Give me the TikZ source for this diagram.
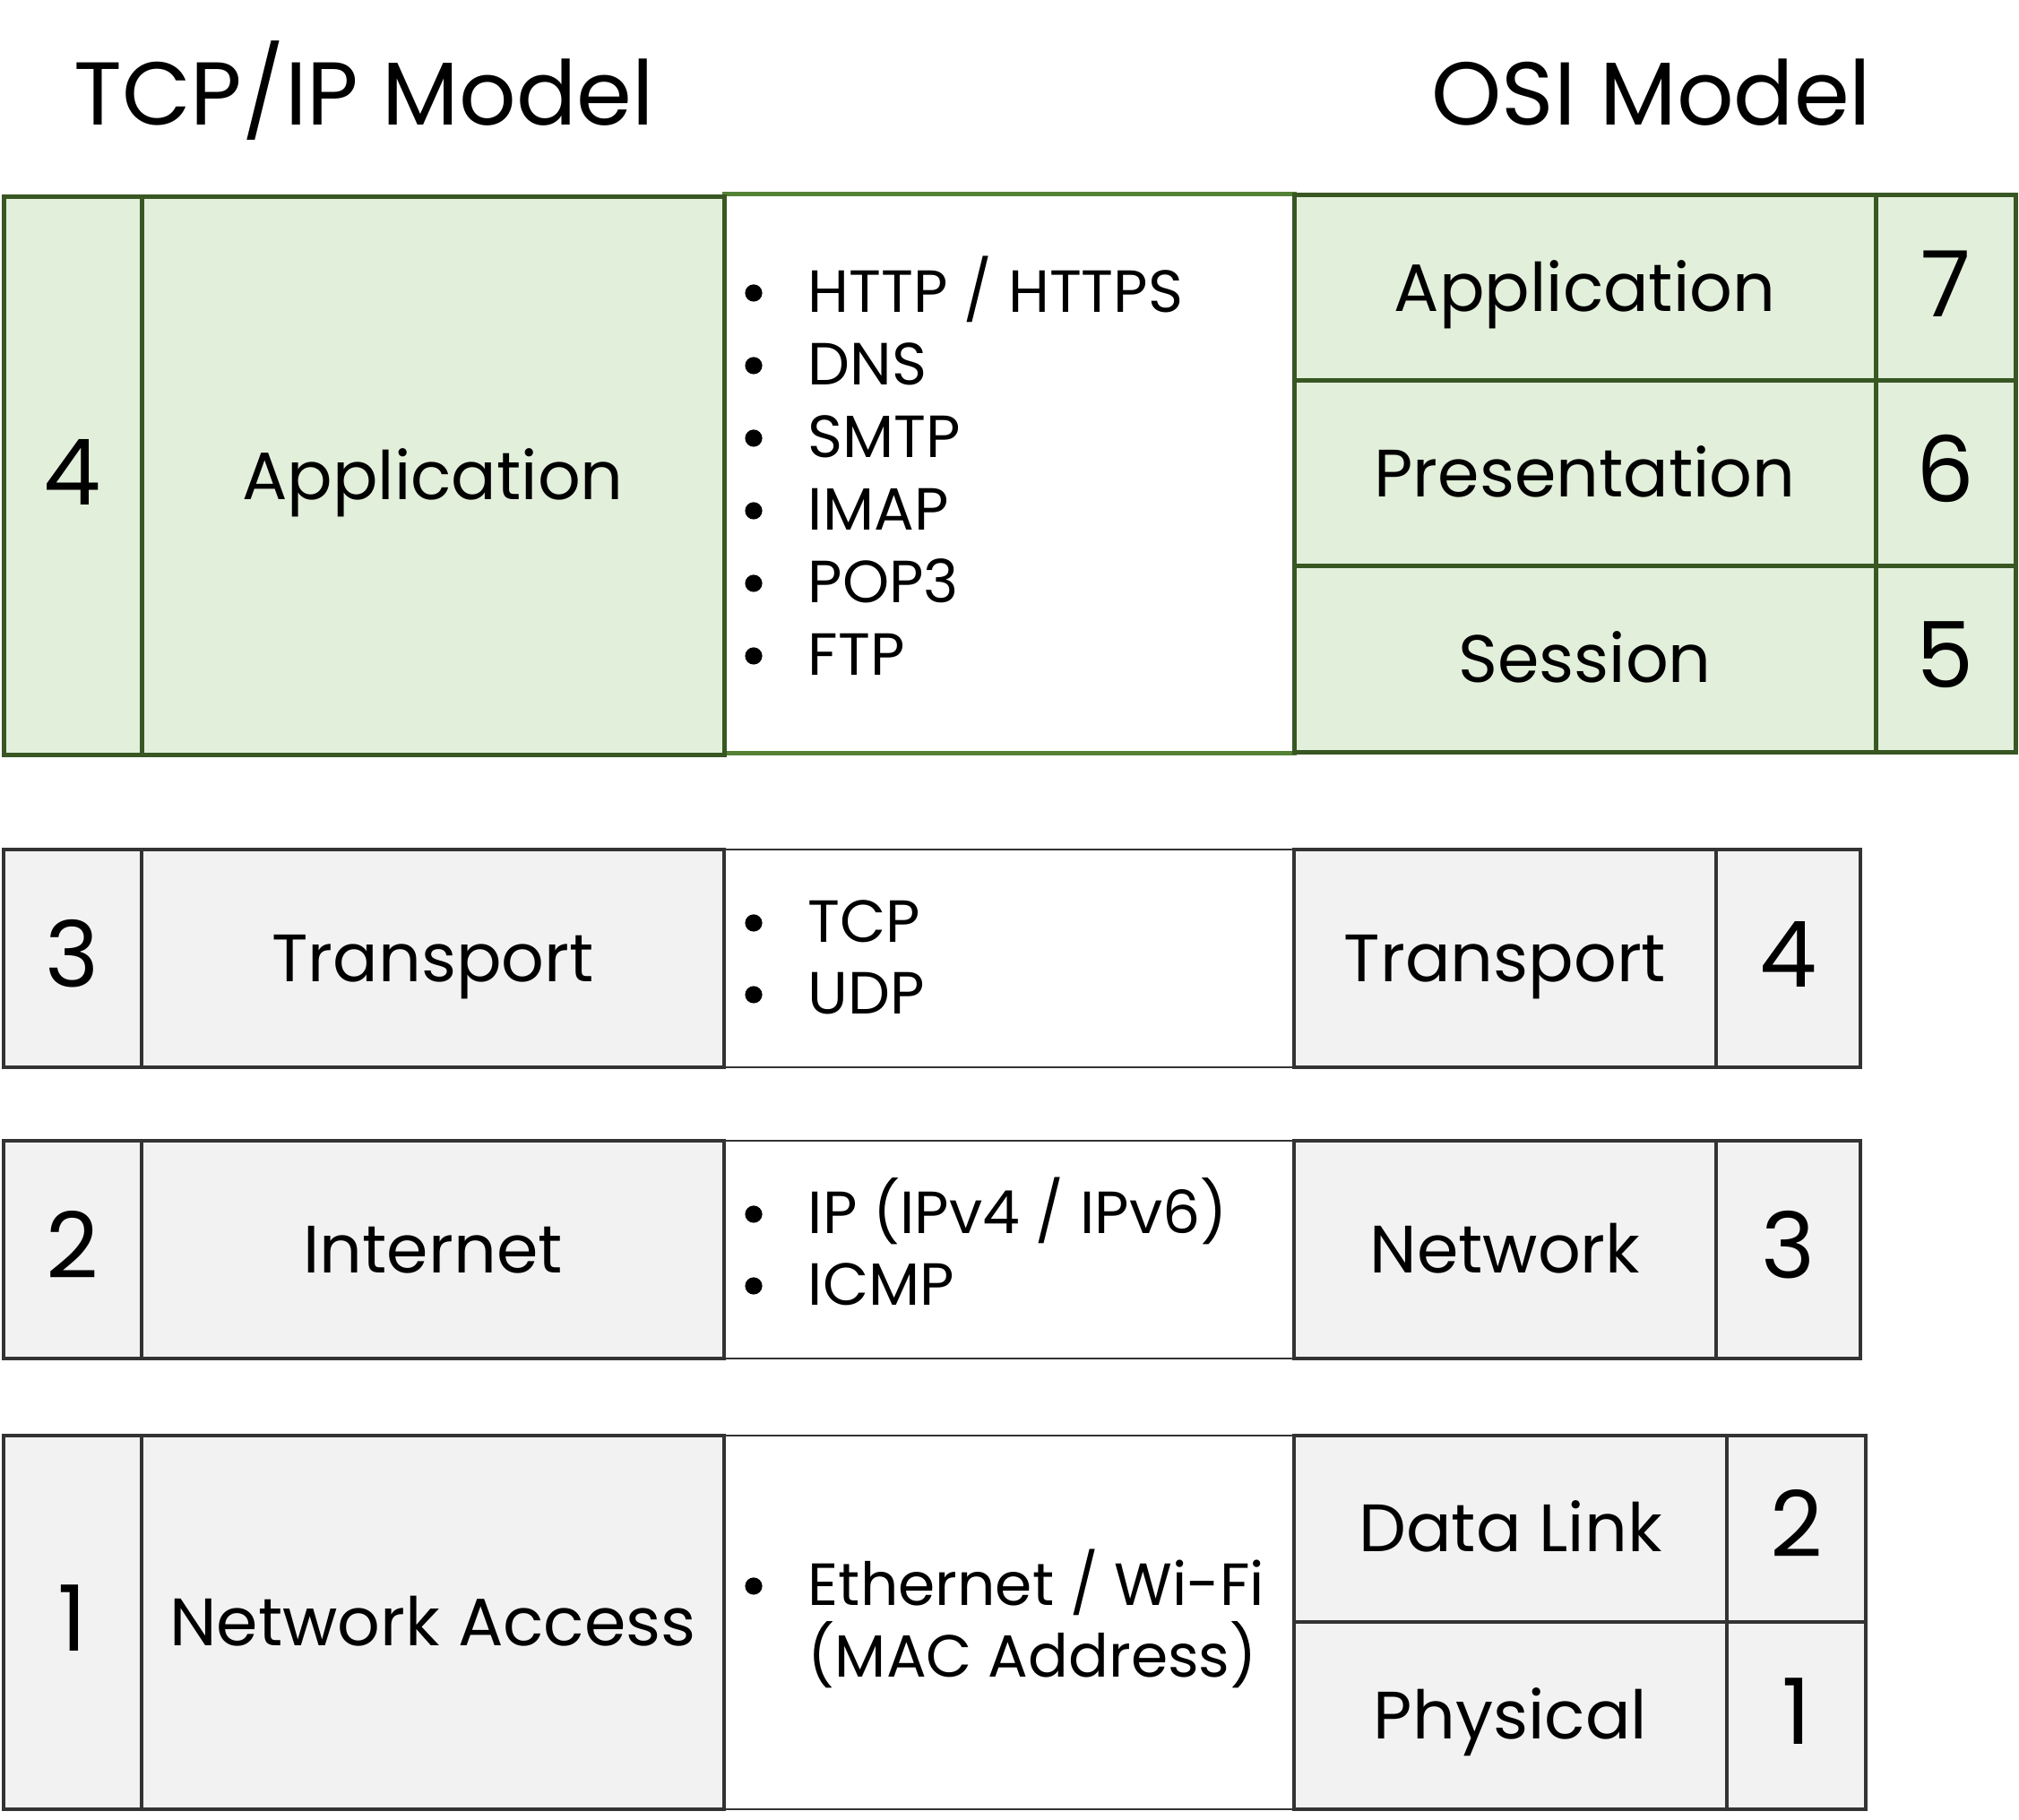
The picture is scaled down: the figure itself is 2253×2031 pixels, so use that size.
\documentclass[tikz,border=0pt]{standalone}
\usepackage{fontspec}
\setmainfont{Poppins}
\definecolor{ltgreen}{HTML}{E2EFDA}
\definecolor{dkgreen}{HTML}{385723}
\definecolor{midgreen}{HTML}{548235}
\definecolor{ltgray}{HTML}{F2F2F2}
\definecolor{dkgray}{HTML}{333333}
% \cellbox{name}{style}{x1}{y1}{x2}{y2}{text}
\newcommand\cellbox[7]{%
  \node[#2, minimum width={(#5-#3)*0.25pt}, minimum height={(#6-#4)*0.25pt}]
    (#1) at ({(#3+#5)/2},{(#4+#6)/2}) {#7};}
\begin{document}
\begin{tikzpicture}[x=0.25pt,y=-0.25pt,
  greencell/.style={draw=dkgreen, fill=ltgreen, line width=1.25pt, inner sep=0pt, rectangle},
  graycell/.style={draw=dkgray, fill=ltgray, line width=1.1pt, inner sep=0pt, rectangle},
  protogreen/.style={draw=midgreen, fill=white, line width=1.25pt, inner sep=0pt, rectangle},
  protogray/.style={draw=dkgray, fill=white, line width=0.7pt, inner sep=0pt, rectangle},
  numtxt/.style={font=\fontsize{25.5}{30}\selectfont, text height=17.8pt, text depth=2pt},
  nametxt/.style={font=\fontsize{18.7}{22}\selectfont, text height=13pt, text depth=0pt},
  titletxt/.style={font=\fontsize{24.9}{30}\selectfont, anchor=base, inner sep=0pt},
  itemtxt/.style={font=\fontsize{16.6}{20}\selectfont, anchor=base west, inner sep=0pt},
  bul/.style={circle, fill=black, inner sep=0pt, minimum size=4.8pt}]
\useasboundingbox (0,0) rectangle (2253,2031);
\fill[white] (0,0) rectangle (2253,2031);

% titles
\node[titletxt] (ttcp) at (406,140) {TCP/IP Model};
\node[titletxt] (tosi) at (1843,140) {OSI Model};

% ---- top (application) section ----
\cellbox{pApp}{protogreen}{808}{217}{1444}{841}{}
\cellbox{n4}{greencell,numtxt}{4}{220}{158}{843}{4}
\cellbox{tApp}{greencell,nametxt}{158}{220}{808}{843}{Application}
\cellbox{oApp}{greencell,nametxt}{1444}{218}{2093}{425}{Application}
\cellbox{o7}{greencell,numtxt}{2093}{218}{2249}{425}{7}
\cellbox{oPres}{greencell,nametxt}{1444}{425}{2093}{632}{Presentation}
\cellbox{o6}{greencell,numtxt}{2093}{425}{2249}{632}{6}
\cellbox{oSes}{greencell,nametxt}{1444}{632}{2093}{840}{Session}
\cellbox{o5}{greencell,numtxt}{2093}{632}{2249}{840}{5}

\foreach \t/\y [count=\i] in {{HTTP / HTTPS}/349, DNS/430, SMTP/511, IMAP/592, POP3/673, FTP/754}{
  \node[bul] (ab\i) at (841,\y-22) {};
  \node[itemtxt] (ai\i) at (901,\y) {\t};
}

% ---- transport ----
\cellbox{pTr}{protogray}{808}{948}{1444}{1191}{}
\cellbox{n3}{graycell,numtxt}{4}{948}{158}{1191}{3}
\cellbox{tTr}{graycell,nametxt}{158}{948}{808}{1191}{Transport}
\cellbox{oTr}{graycell,nametxt}{1444}{948}{1915}{1191}{Transport}
\cellbox{o4}{graycell,numtxt}{1915}{948}{2076}{1191}{4}
\node[bul] (tb1) at (841,1052-22) {};
\node[itemtxt] (ti1) at (901,1052) {TCP};
\node[bul] (tb2) at (841,1132-22) {};
\node[itemtxt] (ti2) at (901,1132) {UDP};

% ---- internet ----
\cellbox{pIn}{protogray}{808}{1273}{1444}{1516}{}
\cellbox{n2}{graycell,numtxt}{4}{1273}{158}{1516}{2}
\cellbox{tIn}{graycell,nametxt}{158}{1273}{808}{1516}{Internet}
\cellbox{oNet}{graycell,nametxt}{1444}{1273}{1915}{1516}{Network}
\cellbox{o3}{graycell,numtxt}{1915}{1273}{2076}{1516}{3}
\node[bul] (ib1) at (841,1377-22) {};
\node[itemtxt] (ii1) at (901,1377) {IP (IPv4 / IPv6)};
\node[bul] (ib2) at (841,1457-22) {};
\node[itemtxt] (ii2) at (901,1457) {ICMP};

% ---- network access ----
\cellbox{pNA}{protogray}{808}{1602}{1444}{2019}{}
\cellbox{n1}{graycell,numtxt}{4}{1602}{158}{2019}{1}
\cellbox{tNA}{graycell,nametxt}{158}{1602}{808}{2019}{Network Access}
\cellbox{oDL}{graycell,nametxt}{1444}{1602}{1927}{1810}{Data Link}
\cellbox{o2}{graycell,numtxt}{1927}{1602}{2082}{1810}{2}
\cellbox{oPh}{graycell,nametxt}{1444}{1810}{1927}{2019}{Physical}
\cellbox{o1}{graycell,numtxt}{1927}{1810}{2082}{2019}{1}
\node[bul] (nb1) at (841,1792-22) {};
\node[itemtxt] (ni1) at (901,1792) {Ethernet / Wi-Fi};
\node[itemtxt] (ni2) at (901,1872) {(MAC Address)};
\end{tikzpicture}
\end{document}
